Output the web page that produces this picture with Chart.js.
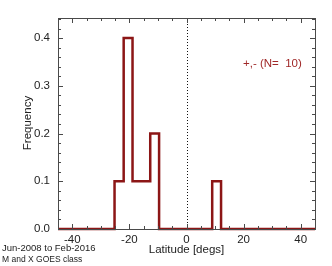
<!DOCTYPE html>
<html>
<head>
<meta charset="utf-8">
<script src="https://cdn.jsdelivr.net/npm/chart.js@4/dist/chart.umd.min.js"></script>
<style>
  html, body { margin: 0; padding: 0; background: #fff; }
  #wrap { width: 332px; height: 266px; position: relative; }
</style>
</head>
<body>
<div id="wrap"><canvas id="histo"></canvas></div>
<script>
// histogram bins (left edges, last one closes the range) and frequencies
const binEdges = [-45, -25.2, -22.0, -18.9, -12.7, -9.6, 9.0, 12.1, 45];
const frequencies = [0, 0.1, 0.4, 0.1, 0.2, 0, 0.1, 0, 0];
const xMajorTicks = [-40, -20, 0, 20, 40];
const yMajorTicks = [0.0, 0.1, 0.2, 0.3, 0.4];

const RED = 'rgb(140, 22, 22)';
const FRAME = '#4a4a4a';
const FONT = '"Liberation Sans", Arial, Helvetica, sans-serif';

var points = [];
for (var i = 0; i < binEdges.length; i++) {
    points.push({ x: binEdges[i], y: frequencies[i] });
}

// frame, inward ticks, zero line and the loose labels
const decorations = {
    id: 'decorations',
    afterDraw(chart) {
        const ctx = chart.ctx;
        const a = chart.chartArea;
        const xs = chart.scales.x;
        const ys = chart.scales.y;
        ctx.save();

        // dotted line at latitude 0
        ctx.strokeStyle = '#111';
        ctx.lineWidth = 1;
        ctx.setLineDash([1, 2]);
        const x0 = Math.round(xs.getPixelForValue(0)) + 0.5;
        ctx.beginPath();
        ctx.moveTo(x0, a.top);
        ctx.lineTo(x0, a.bottom);
        ctx.stroke();
        ctx.setLineDash([]);

        // ticks on all four sides
        ctx.strokeStyle = FRAME;
        ctx.beginPath();
        for (var v = -45; v <= 45; v += 5) {
            if (v <= xs.min || v >= xs.max) continue;
            const px = Math.round(xs.getPixelForValue(v)) + 0.5;
            const len = (v % 20 === 0) ? 5 : 3;
            ctx.moveTo(px, a.bottom); ctx.lineTo(px, a.bottom - len);
            ctx.moveTo(px, a.top); ctx.lineTo(px, a.top + len);
        }
        for (var k = 1; k <= 22; k++) {
            const val = k * 0.02;
            if (val >= ys.max) continue;
            const py = Math.round(ys.getPixelForValue(val)) + 0.5;
            const len = (k % 5 === 0) ? 5 : 3;
            ctx.moveTo(a.left, py); ctx.lineTo(a.left + len, py);
            ctx.moveTo(a.right, py); ctx.lineTo(a.right - len, py);
        }
        ctx.stroke();

        // frame
        ctx.lineWidth = 1;
        ctx.strokeRect(Math.round(a.left) + 0.5, Math.round(a.top) + 0.5,
            Math.round(a.right - a.left), Math.round(a.bottom - a.top));

        // axis titles
        ctx.fillStyle = '#222';
        ctx.font = '11.5px ' + FONT;
        ctx.textAlign = 'center';
        ctx.textBaseline = 'middle';
        ctx.fillText('Latitude [degs]', xs.getPixelForValue(0), 250);
        ctx.save();
        ctx.translate(28, 123);
        ctx.rotate(-Math.PI / 2);
        ctx.fillText('Frequency', 0, 0);
        ctx.restore();

        // legend-like note
        ctx.fillStyle = 'rgb(160, 40, 40)';
        ctx.textAlign = 'left';
        ctx.fillText('+,- (N=  10)', 243, 64);

        // period / class note
        ctx.fillStyle = '#222';
        ctx.font = '9.5px ' + FONT;
        ctx.fillText('Jun-2008 to Feb-2016', 2, 248);
        ctx.font = '8.5px ' + FONT;
        ctx.fillText('M and X GOES class', 2, 260);

        ctx.restore();
    }
};

const config = {
    type: 'line',
    data: {
        datasets: [{
            data: points,
            stepped: 'before',
            borderColor: RED,
            borderWidth: 2.5,
            pointRadius: 0,
            fill: false,
            clip: false
        }]
    },
    options: {
        responsive: false,
        animation: false,
        events: [],
        layout: { padding: { left: 0, right: 17, top: 18, bottom: 0 } },
        plugins: {
            legend: { display: false },
            tooltip: { enabled: false }
        },
        scales: {
            x: {
                type: 'linear',
                min: -45,
                max: 45,
                afterFit: function (scale) { scale.height = 37; },
                afterBuildTicks: function (scale) {
                    scale.ticks = xMajorTicks.map(function (v) { return { value: v }; });
                },
                grid: { display: false, drawTicks: false },
                border: { display: false },
                ticks: {
                    padding: 4,
                    color: '#222',
                    font: { family: FONT, size: 11.5 },
                    maxRotation: 0,
                    callback: function (v) { return String(v); }
                }
            },
            y: {
                type: 'linear',
                min: 0,
                max: 0.442,
                afterFit: function (scale) { scale.width = 58; },
                afterBuildTicks: function (scale) {
                    scale.ticks = yMajorTicks.map(function (v) { return { value: v }; });
                },
                grid: { display: false, drawTicks: false },
                border: { display: false },
                ticks: {
                    padding: 8,
                    color: '#222',
                    font: { family: FONT, size: 11.5 },
                    callback: function (v) { return v.toFixed(1); }
                }
            }
        }
    },
    plugins: [decorations]
};

const canvas = document.getElementById('histo');
canvas.width = 332;
canvas.height = 266;
new Chart(canvas, config);
</script>
</body>
</html>
